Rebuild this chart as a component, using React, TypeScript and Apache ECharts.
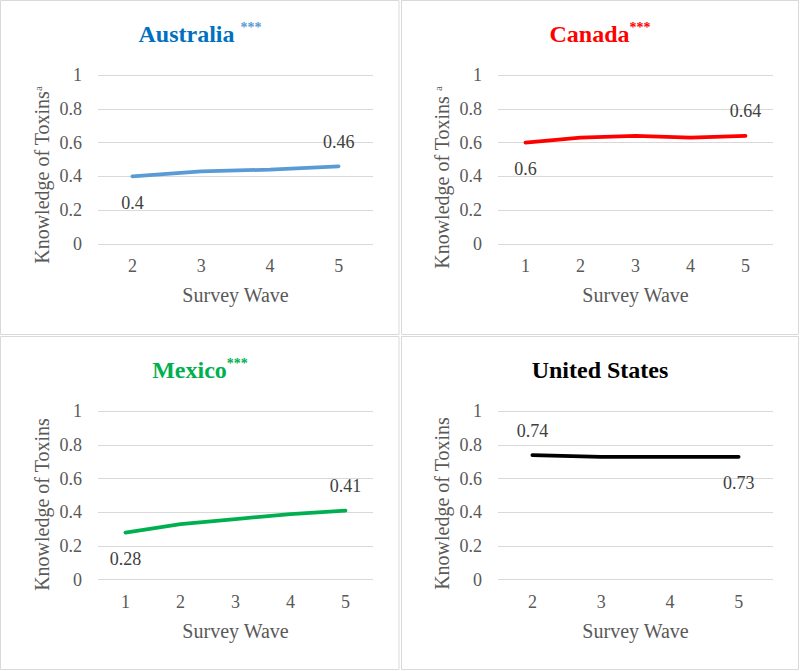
import React, { useEffect, useRef } from "react";
import * as echarts from "echarts";

const wavesAU = ["2", "3", "4", "5"];
const valuesAU = [0.4, 0.43, 0.44, 0.46];
const wavesCA = ["1", "2", "3", "4", "5"];
const valuesCA = [0.6, 0.63, 0.64, 0.63, 0.64];
const wavesMX = ["1", "2", "3", "4", "5"];
const valuesMX = [0.28, 0.33, 0.36, 0.39, 0.41];
const wavesUS = ["2", "3", "4", "5"];
const valuesUS = [0.74, 0.73, 0.73, 0.73];
const yTicks = [0, 0.2, 0.4, 0.6, 0.8, 1];

const FONT = "Liberation Serif";
const GRAY = "#595959";

type Panel = {
  title: string;
  sep: string;
  titleColor: string;
  starColor: string;
  lineColor: string;
  yName: string;
  namePad: number;
  cats: string[];
  vals: number[];
  firstPos: "top" | "bottom";
  lastPos: "top" | "bottom";
  px: number;
  py: number;
  gridTop: number;
  gridH: number;
};

const panels: Panel[] = [
  { title: "Australia", sep: " ", titleColor: "#0070C0", starColor: "#5B9BD5", lineColor: "#5B9BD5", yName: "Knowledge of Toxins{a|a}", namePad: 31, cats: wavesAU, vals: valuesAU, firstPos: "bottom", lastPos: "top", px: 0, py: 0, gridTop: 75, gridH: 169 },
  { title: "Canada", sep: "", titleColor: "#FF0000", starColor: "#FF0000", lineColor: "#FF0000", yName: "Knowledge of Toxins {a|a}", namePad: 36, cats: wavesCA, vals: valuesCA, firstPos: "bottom", lastPos: "top", px: 400, py: 0, gridTop: 75, gridH: 169 },
  { title: "Mexico", sep: "", titleColor: "#00B050", starColor: "#00B050", lineColor: "#00B050", yName: "Knowledge of Toxins", namePad: 18, cats: wavesMX, vals: valuesMX, firstPos: "bottom", lastPos: "top", px: 0, py: 336, gridTop: 411.3, gridH: 168.4 },
  { title: "United States", sep: "", titleColor: "#000000", starColor: "#000000", lineColor: "#000000", yName: "Knowledge of Toxins", namePad: 16, cats: wavesUS, vals: valuesUS, firstPos: "top", lastPos: "bottom", px: 400, py: 336, gridTop: 411.3, gridH: 168.4 },
];

export default function App() {
  const ref = useRef<HTMLDivElement>(null);
  useEffect(() => {
    if (!ref.current) return;
    const chart = echarts.init(ref.current, null, { renderer: "svg" });
    const option: any = {
      animation: false,
      backgroundColor: "#ffffff",
      textStyle: { fontFamily: FONT },
      title: panels.map((p) => ({
        text:
          p.title === "United States"
            ? "{t|" + p.title + "}"
            : "{t|" + p.title + "}" + p.sep + "{s|***}",
        left: p.px + 195,
        textAlign: "center",
        top: p.py + 15,
        textStyle: {
          fontFamily: FONT,
          fontSize: 24,
          fontWeight: "bold",
          color: p.titleColor,
          rich: {
            t: { fontFamily: FONT, fontSize: 24, fontWeight: "bold", color: p.titleColor, lineHeight: 27 },
            s: { fontFamily: FONT, fontSize: 14, color: p.starColor, verticalAlign: "top", lineHeight: 14 },
          },
        },
      })),
      graphic: [
        { type: "rect", shape: { x: 0.5, y: 0.5, width: 398.5, height: 334 }, style: { fill: "none", stroke: "#d9d9d9", lineWidth: 1 }, silent: true },
        { type: "rect", shape: { x: 401.5, y: 0.5, width: 397, height: 334 }, style: { fill: "none", stroke: "#d9d9d9", lineWidth: 1 }, silent: true },
        { type: "rect", shape: { x: 0.5, y: 336.5, width: 398.5, height: 333 }, style: { fill: "none", stroke: "#d9d9d9", lineWidth: 1 }, silent: true },
        { type: "rect", shape: { x: 401.5, y: 336.5, width: 397, height: 333 }, style: { fill: "none", stroke: "#d9d9d9", lineWidth: 1 }, silent: true },
      ],
      grid: panels.map((p) => ({
        left: p.px + 98,
        top: p.gridTop,
        width: 275,
        height: p.gridH,
        containLabel: false,
      })),
      xAxis: panels.map((p, i) => ({
        type: "category",
        gridIndex: i,
        data: p.cats,
        boundaryGap: true,
        axisLine: { show: false },
        axisTick: { show: false },
        axisLabel: { color: GRAY, fontFamily: FONT, fontSize: 18, margin: 13 },
        name: "Survey Wave",
        nameLocation: "middle",
        nameGap: 41,
        nameTextStyle: { color: GRAY, fontFamily: FONT, fontSize: 20 },
      })),
      yAxis: panels.map((p, i) => ({
        type: "value",
        gridIndex: i,
        min: yTicks[0],
        max: yTicks[yTicks.length - 1],
        interval: yTicks[1] - yTicks[0],
        axisLine: { show: false },
        axisTick: { show: false },
        splitLine: { lineStyle: { color: "#d9d9d9", width: 1 } },
        axisLabel: { color: GRAY, fontFamily: FONT, fontSize: 18, margin: 16 },
        name: p.yName,
        nameLocation: "middle",
        nameRotate: 90,
        nameGap: 46,
        nameTextStyle: {
          color: GRAY,
          fontFamily: FONT,
          fontSize: 20,
          padding: [0, p.namePad, 0, 0],
          rich: {
            a: { color: GRAY, fontFamily: FONT, fontSize: 11, verticalAlign: "top" },
          },
        },
      })),
      series: panels.map((p, i) => ({
        type: "line",
        xAxisIndex: i,
        yAxisIndex: i,
        symbol: "circle",
        symbolSize: 1,
        showSymbol: true,
        lineStyle: { color: p.lineColor, width: 3.75, cap: "round", join: "round" },
        itemStyle: { color: p.lineColor },
        data: p.vals.map((v, j) => {
          const isFirst = j === 0;
          const isLast = j === p.vals.length - 1;
          if (!isFirst && !isLast) return { value: v, label: { show: false } };
          const pos = isFirst ? p.firstPos : p.lastPos;
          return {
            value: v,
            label: {
              show: true,
              position: pos,
              distance: pos === "top" ? 15 : 17,
              color: "#404040",
              fontFamily: FONT,
              fontSize: 18,
              formatter: (d: any) => String(d.value),
            },
          };
        }),
      })),
    };
    chart.setOption(option);
    return () => chart.dispose();
  }, []);
  return (
    <div
      ref={ref}
      style={{ position: "absolute", left: 0, top: 0, width: 800, height: 671, background: "#fff" }}
    />
  );
}
